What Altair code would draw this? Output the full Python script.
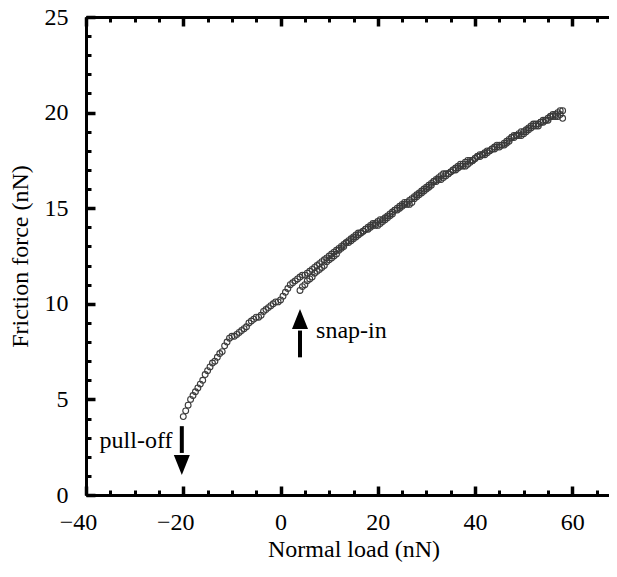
import altair as alt
import pandas as pd

# unloading branch (main curve), read at whole and half nN steps
load_main = [-20, -19, -18, -17, -16, -15, -14, -13, -12, -11, -10, -9, -8, -7, -6, -5, -4, -3, -2, -1,
             0, 1, 2, 3, 4, 5, 6, 7, 8, 9, 10, 11, 12, 13, 14, 15, 16, 17, 18, 19,
             20, 21, 22, 23, 24, 25, 26, 27, 28, 29, 30, 31, 32, 33, 34, 35, 36, 37, 38, 39,
             40, 41, 42, 43, 44, 45, 46, 47, 48, 49, 50, 51, 52, 53, 54, 55, 56, 57, 58]
fric_main = [4.1, 4.7, 5.2, 5.6, 6.0, 6.5, 6.9, 7.2, 7.5, 8.0, 8.3, 8.4, 8.6, 8.8, 9.1, 9.3, 9.4, 9.7, 9.9, 10.1,
             10.2, 10.6, 11.0, 11.2, 11.4, 11.5, 11.7, 11.9, 12.1, 12.3, 12.5, 12.7, 12.9, 13.1, 13.2, 13.4, 13.6, 13.8, 13.9, 14.1,
             14.3, 14.4, 14.6, 14.8, 14.9, 15.1, 15.3, 15.5, 15.7, 15.9, 16.1, 16.3, 16.4, 16.5, 16.7, 16.9, 17.0, 17.2, 17.4, 17.5,
             17.6, 17.7, 17.9, 18.0, 18.1, 18.2, 18.4, 18.6, 18.7, 18.9, 19.0, 19.1, 19.3, 19.4, 19.5, 19.7, 19.8, 20.0, 20.1]
load_main_h = [-19.5, -18.5, -17.5, -16.5, -15.5, -14.5, -13.5, -12.5, -11.5, -10.5, -9.5, -8.5, -7.5, -6.5, -5.5, -4.5, -3.5, -2.5, -1.5, -0.5,
               0.5, 1.5, 2.5, 3.5, 4.5, 5.5, 6.5, 7.5, 8.5, 9.5, 10.5, 11.5, 12.5, 13.5, 14.5, 15.5, 16.5, 17.5, 18.5, 19.5,
               20.5, 21.5, 22.5, 23.5, 24.5, 25.5, 26.5, 27.5, 28.5, 29.5, 30.5, 31.5, 32.5, 33.5, 34.5, 35.5, 36.5, 37.5, 38.5, 39.5,
               40.5, 41.5, 42.5, 43.5, 44.5, 45.5, 46.5, 47.5, 48.5, 49.5, 50.5, 51.5, 52.5, 53.5, 54.5, 55.5, 56.5, 57.5]
fric_main_h = [4.4, 5.0, 5.4, 5.8, 6.3, 6.7, 7.0, 7.4, 7.8, 8.2, 8.3, 8.5, 8.7, 9.0, 9.2, 9.3, 9.6, 9.8, 10.0, 10.1,
               10.4, 10.8, 11.1, 11.3, 11.5, 11.6, 11.8, 12.0, 12.2, 12.4, 12.6, 12.8, 13.0, 13.2, 13.3, 13.5, 13.7, 13.9, 14.0, 14.2,
               14.4, 14.5, 14.7, 14.9, 15.0, 15.2, 15.4, 15.6, 15.8, 16.0, 16.2, 16.4, 16.5, 16.6, 16.8, 17.0, 17.1, 17.3, 17.5, 17.5,
               17.7, 17.8, 18.0, 18.1, 18.2, 18.3, 18.5, 18.7, 18.8, 19.0, 19.1, 19.2, 19.4, 19.5, 19.6, 19.8, 19.9, 20.1]

# loading branch (after snap-in)
load_snap = [4, 5, 6, 7, 8, 9, 10, 11, 12, 13, 14, 15, 16, 17, 18, 19, 20, 21, 22, 23,
             24, 25, 26, 27, 28, 29, 30, 31, 32, 33, 34, 35, 36, 37, 38, 39, 40, 41, 42, 43,
             44, 45, 46, 47, 48, 49, 50, 51, 52, 53, 54, 55, 56, 57, 58]
fric_snap = [10.7, 11.0, 11.3, 11.6, 11.8, 12.0, 12.3, 12.5, 12.8, 13.0, 13.3, 13.5, 13.7, 13.8, 14.0, 14.2, 14.1, 14.3, 14.5, 14.7,
             15.0, 15.2, 15.2, 15.3, 15.6, 15.8, 16.0, 16.2, 16.5, 16.7, 16.8, 16.9, 17.1, 17.3, 17.2, 17.4, 17.6, 17.8, 17.8, 18.0,
             18.2, 18.3, 18.3, 18.5, 18.8, 18.8, 18.9, 19.2, 19.4, 19.3, 19.6, 19.6, 19.9, 19.8, 19.7]
load_snap_h = [4.5, 5.5, 6.5, 7.5, 8.5, 9.5, 10.5, 11.5, 12.5, 13.5, 14.5, 15.5, 16.5, 17.5, 18.5, 19.5, 20.5, 21.5, 22.5, 23.5,
               24.5, 25.5, 26.5, 27.5, 28.5, 29.5, 30.5, 31.5, 32.5, 33.5, 34.5, 35.5, 36.5, 37.5, 38.5, 39.5, 40.5, 41.5, 42.5, 43.5,
               44.5, 45.5, 46.5, 47.5, 48.5, 49.5, 50.5, 51.5, 52.5, 53.5, 54.5, 55.5, 56.5, 57.5]
fric_snap_h = [10.9, 11.2, 11.4, 11.7, 11.9, 12.2, 12.4, 12.6, 12.9, 13.2, 13.4, 13.6, 13.7, 13.9, 14.1, 14.1, 14.2, 14.4, 14.6, 14.9,
               15.1, 15.3, 15.2, 15.5, 15.7, 15.9, 16.1, 16.4, 16.6, 16.8, 16.8, 17.0, 17.2, 17.2, 17.3, 17.5, 17.7, 17.8, 17.9, 18.1,
               18.3, 18.3, 18.4, 18.7, 18.8, 18.8, 19.0, 19.3, 19.3, 19.5, 19.6, 19.8, 19.8, 19.9]

# annotations
arrow_x = [-20.3, 4.0]
arrow_shaft_top = [3.6, 8.6]
arrow_shaft_bot = [2.2, 7.2]
head_y_down = [1.57]
head_y_up = [9.2]
label_text = ["pull-off", "snap-in"]
label_x = [-37.2, 7.3]
label_y = [2.85, 8.6]

x_major = [-40, -20, 0, 20, 40, 60]
x_minor = [-40, -35, -30, -25, -20, -15, -10, -5, 0, 5, 10, 15, 20, 25, 30, 35, 40, 45, 50, 55, 60, 65, 70]
y_major = [0, 5, 10, 15, 20, 25]
y_minor = [0, 1, 2, 3, 4, 5, 6, 7, 8, 9, 10, 11, 12, 13, 14, 15, 16, 17, 18, 19, 20, 21, 22, 23, 24, 25]

pts = pd.DataFrame({
    "x": load_main + load_main_h + load_snap + load_snap_h,
    "y": fric_main + fric_main_h + fric_snap + fric_snap_h,
})
shafts = pd.DataFrame({"x": arrow_x, "y1": arrow_shaft_top, "y2": arrow_shaft_bot})
head_down = pd.DataFrame({"x": [arrow_x[0]], "y": head_y_down})
head_up = pd.DataFrame({"x": [arrow_x[1]], "y": head_y_up})
labels = pd.DataFrame({"t": label_text, "x": label_x, "y": label_y})

FONT = "Liberation Serif, Times New Roman, Times, serif"
W_VIEW = 523
xs = alt.Scale(domain=[-40, 70], range=[0, 535], nice=False, zero=False)
ys = alt.Scale(domain=[0, 25], nice=False, zero=False)

main_x = alt.Axis(orient="bottom", values=x_major, domain=True, domainWidth=3, domainColor="black",
                  ticks=False, labelPadding=15, labelFlush=False,
                  labelOffset={"condition": {"test": "datum.value < 0", "value": -8}, "value": 0},
                  title="Normal load (nN)", titlePadding=3, grid=False)
main_y = alt.Axis(orient="left", values=y_major, domain=True, domainWidth=3, domainColor="black",
                  ticks=False, labelPadding=18, labelFlush=False,
                  title="Friction force (nN)", titlePadding=12, grid=False)

points = alt.Chart(pts).mark_point(shape="circle", size=34, filled=False,
                                   color="#3a3a3a", strokeWidth=1.1, opacity=1).encode(
    x=alt.X("x:Q", scale=xs, axis=main_x),
    y=alt.Y("y:Q", scale=ys, axis=main_y),
)


def tick_axis(orient, vals, size, width, offset):
    return alt.Axis(orient=orient, values=vals, domain=False, labels=False, title=None,
                    tickSize=size, tickWidth=width, offset=offset, grid=False, tickColor="black")


def tick_layer(ax, ay):
    return alt.Chart(pts).mark_point(opacity=0).encode(
        x=alt.X("x:Q", scale=xs, axis=ax),
        y=alt.Y("y:Q", scale=ys, axis=ay),
    )


t1 = tick_layer(tick_axis("bottom", x_major, 9, 3.5, -9), tick_axis("left", y_major, 9, 3.5, -9))
t2 = tick_layer(tick_axis("bottom", x_minor, 5, 3, -5), tick_axis("left", y_minor, 5, 3, -5))
t3 = tick_layer(tick_axis("top", x_major, 9, 3.5, -9), None)
t4 = tick_layer(tick_axis("top", x_minor, 5, 3, -5), None)
top_line = alt.Chart(pts).mark_point(opacity=0).encode(
    x=alt.X("x:Q", scale=xs, axis=alt.Axis(orient="top", domain=True, domainWidth=3, domainColor="black",
                                           ticks=False, labels=False, title=None, grid=False)),
    y=alt.Y("y:Q", scale=ys, axis=None),
)

shaft = alt.Chart(shafts).mark_rule(strokeWidth=4, color="black").encode(
    x=alt.X("x:Q", scale=xs, axis=None), y=alt.Y("y1:Q", scale=ys, axis=None), y2="y2:Q")
hd = alt.Chart(head_down).mark_point(shape="M-0.8,-1L0.8,-1L0,1Z", size=400, filled=True,
                                     color="black", opacity=1).encode(
    x=alt.X("x:Q", scale=xs, axis=None), y=alt.Y("y:Q", scale=ys, axis=None))
hu = alt.Chart(head_up).mark_point(shape="M-0.8,1L0.8,1L0,-1Z", size=400, filled=True,
                                   color="black", opacity=1).encode(
    x=alt.X("x:Q", scale=xs, axis=None), y=alt.Y("y:Q", scale=ys, axis=None))
txt = alt.Chart(labels).mark_text(align="left", baseline="middle", font=FONT, fontSize=24,
                                  color="black").encode(
    x=alt.X("x:Q", scale=xs, axis=None), y=alt.Y("y:Q", scale=ys, axis=None), text="t:N")

chart = alt.layer(points, t1, t2, t3, t4, top_line, shaft, hd, hu, txt).resolve_axis(
    x="independent", y="independent"
).properties(
    width=W_VIEW, height=478,
    autosize=alt.AutoSizeParams(type="none"),
    padding={"left": 78, "top": 9, "right": 0, "bottom": 67},
).configure_view(
    stroke=None
).configure_axis(
    labelFont=FONT, titleFont=FONT, labelFontSize=24, titleFontSize=24,
    labelColor="black", titleColor="black", titleFontWeight="normal",
)

chart.save("out.html", embed_options={"renderer": "svg", "actions": False})
